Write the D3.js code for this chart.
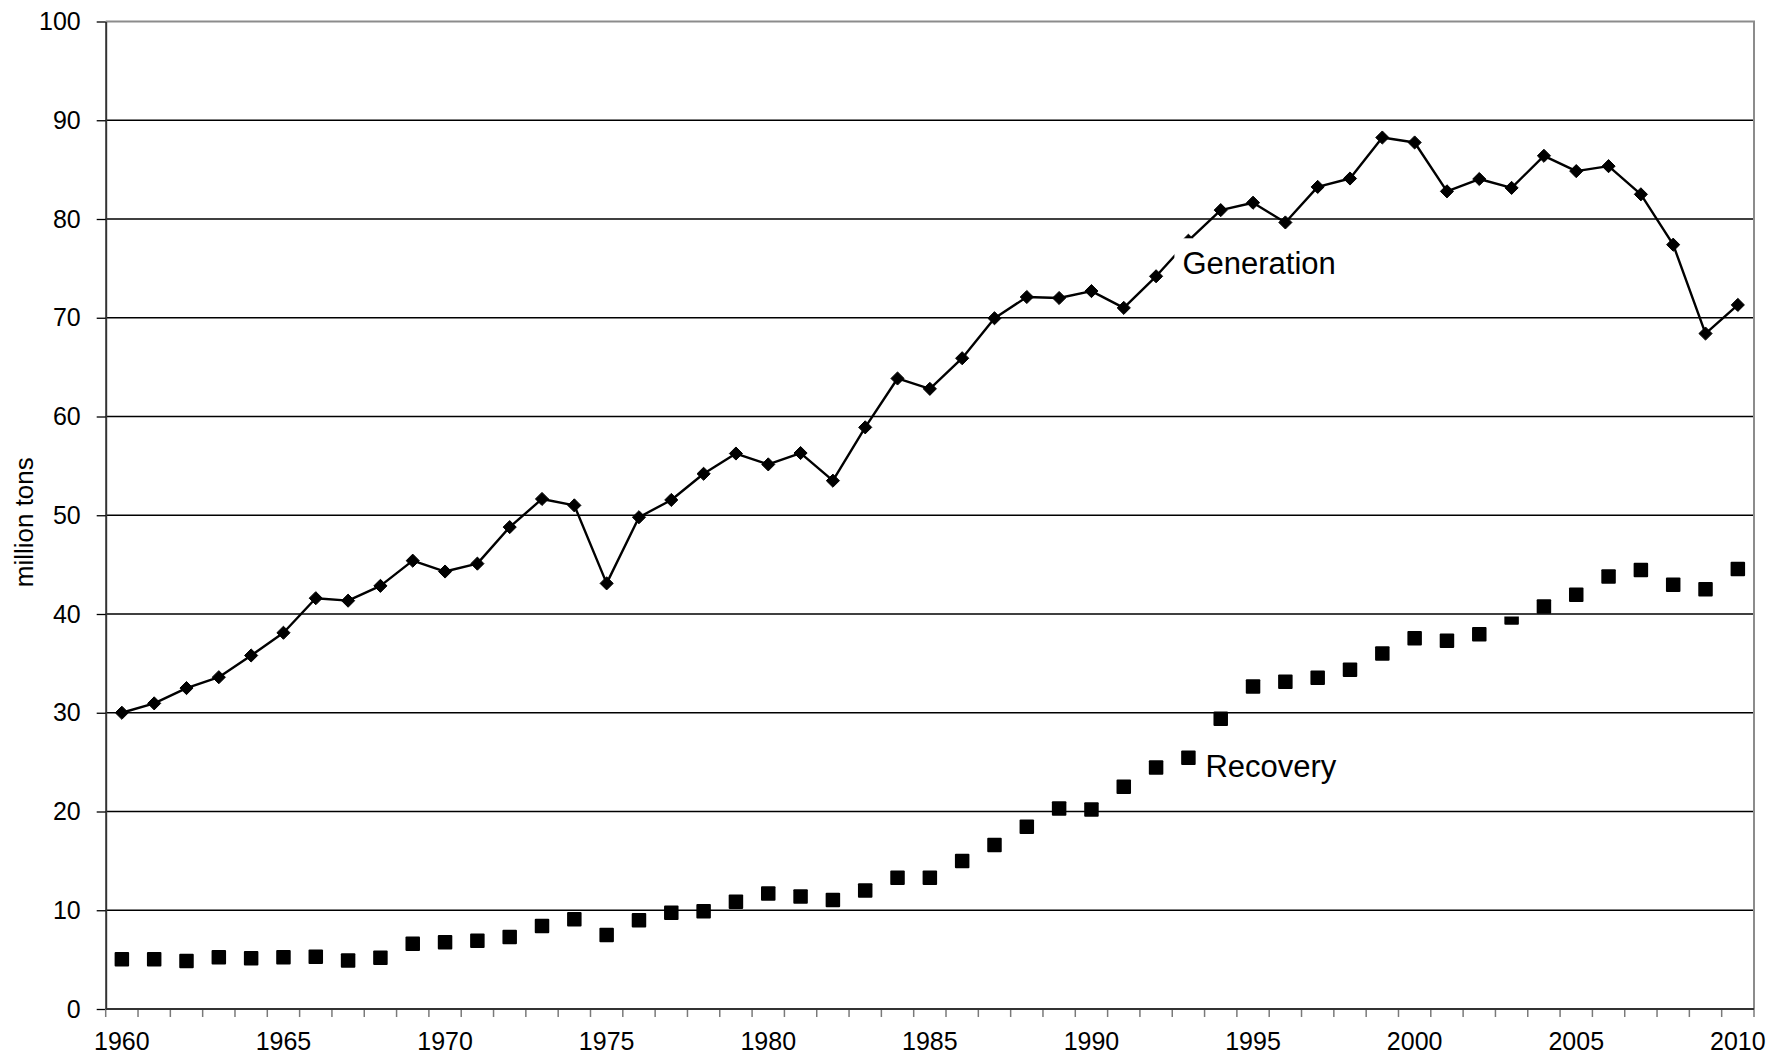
<!DOCTYPE html>
<html>
<head>
<meta charset="utf-8">
<script src="https://cdn.jsdelivr.net/npm/d3@7"></script>
<style>
	body { margin: 0; background: #fff; }
	svg { display: block; font-family: "Liberation Sans", Arial, Helvetica, sans-serif; }
</style>
</head>
<body>
<svg id="chart" width="1772" height="1056" viewBox="0 0 1772 1056"></svg>
<script>

// categories (one per year) and the two series, million tons
const years = [1960, 1961, 1962, 1963, 1964, 1965, 1966, 1967, 1968, 1969,
	1970, 1971, 1972, 1973, 1974, 1975, 1976, 1977, 1978, 1979,
	1980, 1981, 1982, 1983, 1984, 1985, 1986, 1987, 1988, 1989,
	1990, 1991, 1992, 1993, 1994, 1995, 1996, 1997, 1998, 1999,
	2000, 2001, 2002, 2003, 2004, 2005, 2006, 2007, 2008, 2009, 2010];

const generation = [30.0, 30.95, 32.5, 33.6, 35.8, 38.1, 41.6, 41.35, 42.85, 45.4,
	44.3, 45.1, 48.8, 51.65, 51.0, 43.1, 49.8, 51.55, 54.2, 56.25,
	55.15, 56.3, 53.5, 58.9, 63.85, 62.8, 65.9, 69.95, 72.1, 72.0,
	72.7, 71.0, 74.2, 77.8, 80.9, 81.65, 79.65, 83.25, 84.1, 88.25,
	87.75, 82.8, 84.05, 83.15, 86.4, 84.85, 85.35, 82.5, 77.4, 68.4, 71.3];

const recovery = [5.05, 5.05, 4.85, 5.25, 5.15, 5.25, 5.3, 4.9, 5.2, 6.6,
	6.75, 6.9, 7.3, 8.4, 9.1, 7.5, 9.0, 9.75, 9.9, 10.85,
	11.7, 11.4, 11.05, 12.0, 13.3, 13.3, 15.0, 16.6, 18.45, 20.3,
	20.2, 22.5, 24.45, 25.45, 29.4, 32.65, 33.15, 33.55, 34.35, 36.0,
	37.55, 37.3, 37.95, 39.65, 40.75, 41.95, 43.8, 44.45, 42.95, 42.5, 44.55];

const yTicks = [0, 10, 20, 30, 40, 50, 60, 70, 80, 90, 100];
const xTickLabels = ["1960", "1965", "1970", "1975", "1980", "1985", "1990", "1995", "2000", "2005", "2010"];

const yLabel = "million tons";
const seriesLabels = { generation: "Generation", recovery: "Recovery" };

// plot area
const plot = { left: 105.7, right: 1754, top: 21.5, bottom: 1009 };

const svg = d3.select("#chart");

const x = d3.scaleBand()
	.domain(years)
	.range([plot.left, plot.right])
	.padding(0);
const xc = d => x(d) + x.bandwidth() / 2;

const y = d3.scaleLinear()
	.domain([0, 100])
	.range([plot.bottom, plot.top]);

// gridlines
svg.append("g")
	.attr("class", "grid")
	.selectAll("line")
	.data(yTicks.filter(t => t > 0 && t < 100))
	.enter()
	.append("line")
		.attr("x1", plot.left)
		.attr("x2", plot.right)
		.attr("y1", d => y(d))
		.attr("y2", d => y(d))
		.style("stroke", "#000")
		.style("stroke-width", 1.3);

// top and right frame
svg.append("path")
	.attr("d", "M" + plot.left + "," + y(100) + "H" + plot.right + "V" + plot.bottom)
	.style("fill", "none")
	.style("stroke", "#8c8c8c")
	.style("stroke-width", 2);

// y axis
const yAxis = d3.axisLeft(y)
	.tickValues(yTicks)
	.tickSize(9)
	.tickPadding(16)
	.tickSizeOuter(0);

const yAxisG = svg.append("g")
	.attr("transform", "translate(" + plot.left + ",0)")
	.call(yAxis);
yAxisG.select(".domain").style("stroke", "#333").style("stroke-width", 2);
yAxisG.selectAll(".tick line").style("stroke", "#000").style("stroke-width", 1.3);
yAxisG.selectAll(".tick text")
	.style("font-size", "25px")
	.style("font-family", "'Liberation Sans', Arial, sans-serif")
	.style("fill", "#000");

// x axis: ticks between categories, labels every 5 years
const boundaries = years.map(d => x(d)).concat([plot.right]);
const xAxisG = svg.append("g").attr("class", "x-axis");

xAxisG.selectAll("line.tick")
	.data(boundaries)
	.enter()
	.append("line")
		.attr("class", "tick")
		.attr("x1", d => d)
		.attr("x2", d => d)
		.attr("y1", plot.bottom)
		.attr("y2", plot.bottom + 8)
		.style("stroke", "#7a7a7a")
		.style("stroke-width", 1.5);

xAxisG.append("line")
	.attr("x1", plot.left)
	.attr("x2", plot.right)
	.attr("y1", plot.bottom)
	.attr("y2", plot.bottom)
	.style("stroke", "#333")
	.style("stroke-width", 2);

xAxisG.selectAll("text")
	.data(xTickLabels)
	.enter()
	.append("text")
		.attr("x", d => xc(+d))
		.attr("y", plot.bottom + 41)
		.attr("text-anchor", "middle")
		.style("font-size", "25px")
		.text(d => d);

// y axis title
svg.append("text")
	.attr("transform", "translate(33," + ((plot.top + plot.bottom) / 2 + 7) + ") rotate(-90)")
	.attr("text-anchor", "middle")
	.style("font-size", "26px")
	.text(yLabel);

// generation line + diamonds
const genData = years.map((d, i) => ({ year: d, value: generation[i] }));
const recData = years.map((d, i) => ({ year: d, value: recovery[i] }));

const line = d3.line()
	.x(d => xc(d.year))
	.y(d => y(d.value));

svg.append("path")
	.datum(genData)
	.attr("d", line)
	.style("fill", "none")
	.style("stroke", "#000")
	.style("stroke-width", 2.4)
	.style("stroke-linejoin", "round");

const diamond = d3.symbol().type(d3.symbolDiamond2).size(110);

svg.append("g")
	.selectAll("path")
	.data(genData)
	.enter()
	.append("path")
		.attr("transform", d => "translate(" + xc(d.year) + "," + y(d.value) + ")")
		.attr("d", diamond)
		.style("fill", "#000")
		.style("stroke", "#000")
		.style("stroke-width", 1);

// recovery squares; an empty box in the original hides the top of the 2003 marker
const hole = { x0: xc(2003) - 12, x1: xc(2003) + 12, y0: y(40) - 20, y1: y(39.75) };
const defs = svg.append("defs");
defs.append("clipPath")
	.attr("id", "rec-clip")
	.append("path")
		.attr("clip-rule", "evenodd")
		.attr("d", "M0,0H1772V1056H0Z" +
			"M" + hole.x0 + "," + hole.y0 + "H" + hole.x1 + "V" + hole.y1 + "H" + hole.x0 + "Z");

const sq = 14.5;
svg.append("g")
	.attr("clip-path", "url(#rec-clip)")
	.selectAll("rect")
	.data(recData)
	.enter()
	.append("rect")
		.attr("x", d => xc(d.year) - sq / 2)
		.attr("y", d => y(d.value) - sq / 2)
		.attr("width", sq)
		.attr("height", sq)
		.attr("rx", 1)
		.style("fill", "#000");

// series labels, each in a white box
function seriesLabel(text, year, dx, value) {
	const g = svg.append("g");
	const bg = g.append("rect").style("fill", "#fff");
	const t = g.append("text")
		.attr("x", xc(year) + dx)
		.attr("y", y(value))
		.style("font-size", "31px")
		.text(text);
	const bb = t.node().getBBox();
	bg.attr("x", bb.x - 8)
		.attr("y", bb.y - 8)
		.attr("width", bb.width + 16)
		.attr("height", bb.height + 12);
	return g;
}

seriesLabel(seriesLabels.generation, 1993, -6, 74.4);
seriesLabel(seriesLabels.recovery, 1993, 17, 23.5);

</script>
</body>
</html>
